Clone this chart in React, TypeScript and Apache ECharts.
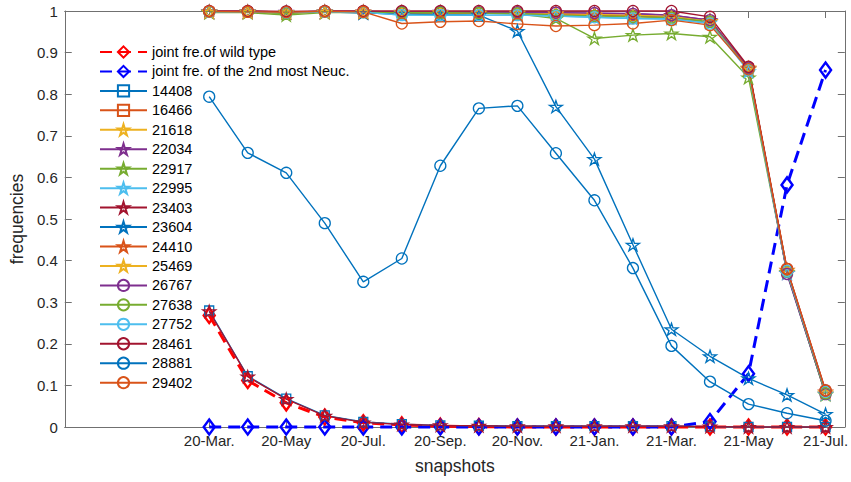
import React, { useEffect, useRef } from 'react';
import * as echarts from 'echarts';

// snapshot index 0..16 = 20-Mar. .. 21-Jul. (monthly)
const xTickLabels = ['20-Mar.', '20-May', '20-Jul.', '20-Sep.', '20-Nov.', '21-Jan.', '21-Mar.', '21-May', '21-Jul.'];
const xTickValues = [0, 2, 4, 6, 8, 10, 12, 14, 16];
const yTickLabels = ['0', '0.1', '0.2', '0.3', '0.4', '0.5', '0.6', '0.7', '0.8', '0.9', '1'];

const wildType = [0.268, 0.112, 0.058, 0.024, 0.01, 0.005, 0.002, 0.001, 0, 0, 0, 0, 0, 0, 0, 0, 0];
const secondNeuc = [0, 0, 0, 0, 0, 0, 0, 0, 0, 0, 0, 0, 0, 0.013, 0.128, 0.582, 0.858];
const s14408 = [0.28, 0.122, 0.068, 0.028, 0.012, 0.007, 0.004, 0.003, 0.002, 0.002, 0.002, 0.002, 0.002, 0.001, 0, 0, 0];
const s16466 = [0.998, 0.997, 0.995, 0.998, 0.997, 0.995, 0.995, 0.995, 0.993, 0.99, 0.99, 0.988, 0.985, 0.975, 0.862, 0.375, 0.082];
const s21618 = [0.998, 0.998, 0.996, 0.998, 0.998, 0.996, 0.996, 0.995, 0.995, 0.993, 0.99, 0.988, 0.985, 0.975, 0.86, 0.372, 0.08];
const s22034 = [0.999, 0.999, 0.998, 0.999, 0.999, 0.998, 0.998, 0.997, 0.997, 0.996, 0.995, 0.994, 0.99, 0.978, 0.862, 0.37, 0.08];
const s22917 = [0.996, 0.996, 0.99, 0.996, 0.996, 0.995, 0.995, 0.995, 0.993, 0.982, 0.934, 0.942, 0.946, 0.938, 0.84, 0.372, 0.078];
const s22995 = [0.998, 0.998, 0.996, 0.998, 0.997, 0.99, 0.99, 0.99, 0.99, 0.988, 0.985, 0.982, 0.982, 0.972, 0.855, 0.37, 0.08];
const s23403 = [0.278, 0.121, 0.067, 0.027, 0.011, 0.006, 0.004, 0.003, 0.002, 0.002, 0.002, 0.002, 0.002, 0.001, 0, 0, 0];
const s23604 = [0.998, 0.998, 0.996, 0.998, 0.995, 0.993, 0.991, 0.99, 0.952, 0.77, 0.644, 0.438, 0.235, 0.17, 0.117, 0.077, 0.031];
const s24410 = [0.998, 0.998, 0.996, 0.998, 0.997, 0.996, 0.996, 0.995, 0.995, 0.993, 0.99, 0.988, 0.985, 0.975, 0.862, 0.378, 0.085];
const s25469 = [0.998, 0.998, 0.997, 0.998, 0.998, 0.997, 0.997, 0.996, 0.996, 0.994, 0.992, 0.99, 0.987, 0.976, 0.864, 0.376, 0.083];
const s26767 = [0.999, 0.999, 0.998, 0.999, 0.999, 0.998, 0.998, 0.997, 0.997, 0.996, 0.995, 0.993, 0.99, 0.978, 0.864, 0.368, 0.079];
const s27638 = [0.998, 0.998, 0.994, 0.998, 0.997, 0.996, 0.996, 0.995, 0.994, 0.99, 0.988, 0.986, 0.984, 0.974, 0.858, 0.374, 0.081];
const s27752 = [0.998, 0.998, 0.996, 0.998, 0.997, 0.99, 0.99, 0.99, 0.99, 0.988, 0.985, 0.982, 0.98, 0.97, 0.858, 0.375, 0.085];
const s28461 = [1, 1, 0.999, 1, 1, 1, 1, 1, 1, 1, 1, 1, 1, 0.986, 0.866, 0.38, 0.088];
const s28881 = [0.794, 0.659, 0.611, 0.49, 0.349, 0.405, 0.628, 0.766, 0.772, 0.658, 0.545, 0.382, 0.195, 0.109, 0.055, 0.033, 0.015];
const s29402 = [0.999, 0.998, 0.997, 0.999, 0.998, 0.97, 0.974, 0.976, 0.969, 0.964, 0.966, 0.97, 0.978, 0.966, 0.86, 0.38, 0.088];

const C = {
  blue: '#0072BD', orange: '#D95319', yellow: '#EDB120', purple: '#7E2F8E',
  green: '#77AC30', cyan: '#4DBEEE', red: '#A2142F',
};
const STAR = 'path://M50 0L61.23 34.55L97.55 34.55L68.16 55.9L79.39 90.45L50 69.1L20.61 90.45L31.84 55.9L2.45 34.55L38.77 34.55Z';

type Spec = { name: string; data: number[]; color: string; marker: string; dashed?: boolean };
const specs: Spec[] = [
  { name: 'joint fre.of wild type', data: wildType, color: '#FF0000', marker: 'diamond', dashed: true },
  { name: 'joint fre. of the 2nd most Neuc.', data: secondNeuc, color: '#0000FF', marker: 'diamond', dashed: true },
  { name: '14408', data: s14408, color: C.blue, marker: 'square' },
  { name: '16466', data: s16466, color: C.orange, marker: 'square' },
  { name: '21618', data: s21618, color: C.yellow, marker: 'star' },
  { name: '22034', data: s22034, color: C.purple, marker: 'star' },
  { name: '22917', data: s22917, color: C.green, marker: 'star' },
  { name: '22995', data: s22995, color: C.cyan, marker: 'star' },
  { name: '23403', data: s23403, color: C.red, marker: 'star' },
  { name: '23604', data: s23604, color: C.blue, marker: 'star' },
  { name: '24410', data: s24410, color: C.orange, marker: 'star' },
  { name: '25469', data: s25469, color: C.yellow, marker: 'star' },
  { name: '26767', data: s26767, color: C.purple, marker: 'circle' },
  { name: '27638', data: s27638, color: C.green, marker: 'circle' },
  { name: '27752', data: s27752, color: C.cyan, marker: 'circle' },
  { name: '28461', data: s28461, color: C.red, marker: 'circle' },
  { name: '28881', data: s28881, color: C.blue, marker: 'circle' },
  { name: '29402', data: s29402, color: C.orange, marker: 'circle' },
];

const FONT = '"Liberation Sans", Arial, Helvetica, sans-serif';
const AXIS_COLOR = '#707070';
const TEXT_COLOR = '#262626';

export default function App() {
  const ref = useRef<HTMLDivElement>(null);
  useEffect(() => {
    if (!ref.current) return;
    const chart = echarts.init(ref.current, undefined, { renderer: 'svg' });
    const symbolOf = (m: string) => (m === 'star' ? STAR : m === 'square' ? 'rect' : m);
    const sizeOf = (m: string): any => (m === 'star' ? [13, 12] : m === 'square' ? 9 : m === 'diamond' ? [11, 15] : 11);
    const series = specs.map((s) => ({
      type: 'line',
      name: s.name,
      data: s.data.map((v, i) => [i, v]),
      xAxisIndex: 0,
      yAxisIndex: 0,
      clip: false,
      symbol: symbolOf(s.marker),
      symbolSize: sizeOf(s.marker),
      showAllSymbol: true,
      lineStyle: {
        color: s.color,
        width: s.dashed ? 3 : 1.4,
        type: s.dashed ? [12, 7] : 'solid',
      },
      itemStyle: {
        color: 'rgba(0,0,0,0)',
        borderColor: s.color,
        borderWidth: s.dashed ? 2.5 : 1.3,
      },
      emphasis: { disabled: true },
    }));
    const xBase = {
      type: 'value',
      min: -3.75,
      max: 16.5,
      splitLine: { show: false },
      axisLine: { show: true, onZero: false, lineStyle: { color: AXIS_COLOR, width: 1 } },
    };
    const yBase = {
      type: 'value',
      min: 0,
      max: 1,
      interval: 0.1,
      splitLine: { show: false },
      axisLine: { show: true, onZero: false, lineStyle: { color: AXIS_COLOR, width: 1 } },
      axisTick: { show: true, inside: true, length: 7, lineStyle: { color: AXIS_COLOR } },
    };
    chart.setOption({
      animation: false,
      backgroundColor: '#ffffff',
      grid: { left: 62, right: 3, top: 11, bottom: 55, containLabel: false },
      legend: {
        orient: 'vertical',
        left: 99,
        top: 44.5,
        padding: 0,
        itemWidth: 47,
        itemHeight: 14,
        itemGap: 4.45,
        selectedMode: false,
        textStyle: { fontFamily: FONT, fontSize: 14.5, color: '#000000', padding: [0, 0, 0, 0] },
        data: specs.map((s) => s.name),
      },
      xAxis: [
        {
          ...xBase,
          position: 'bottom',
          name: 'snapshots',
          nameLocation: 'middle',
          nameGap: 30,
          nameTextStyle: { fontFamily: FONT, fontSize: 17.5, color: TEXT_COLOR },
          axisTick: { show: true, inside: true, length: 7, customValues: xTickValues, lineStyle: { color: AXIS_COLOR } },
          axisLabel: {
            show: true,
            customValues: xTickValues,
            margin: 6,
            fontFamily: FONT,
            fontSize: 15,
            color: TEXT_COLOR,
            formatter: (v: number) => xTickLabels[xTickValues.indexOf(v)] ?? '',
          },
        },
        {
          ...xBase,
          position: 'top',
          axisTick: { show: true, inside: true, length: 7, customValues: xTickValues, lineStyle: { color: AXIS_COLOR } },
          axisLabel: { show: false },
        },
      ],
      yAxis: [
        {
          ...yBase,
          position: 'left',
          name: 'frequencies',
          nameLocation: 'middle',
          nameGap: 36,
          nameTextStyle: { fontFamily: FONT, fontSize: 17.5, color: TEXT_COLOR },
          axisLabel: {
            show: true,
            margin: 7,
            fontFamily: FONT,
            fontSize: 15,
            color: TEXT_COLOR,
            formatter: (v: number) => yTickLabels[Math.round(v * 10)] ?? '',
          },
        },
        {
          ...yBase,
          position: 'right',
          axisLabel: { show: false },
        },
      ],
      series,
    });
    return () => chart.dispose();
  }, []);
  return (
    <div
      ref={ref}
      style={{ position: 'fixed', left: 0, top: 0, width: 851, height: 482, background: '#fff' }}
    />
  );
}
